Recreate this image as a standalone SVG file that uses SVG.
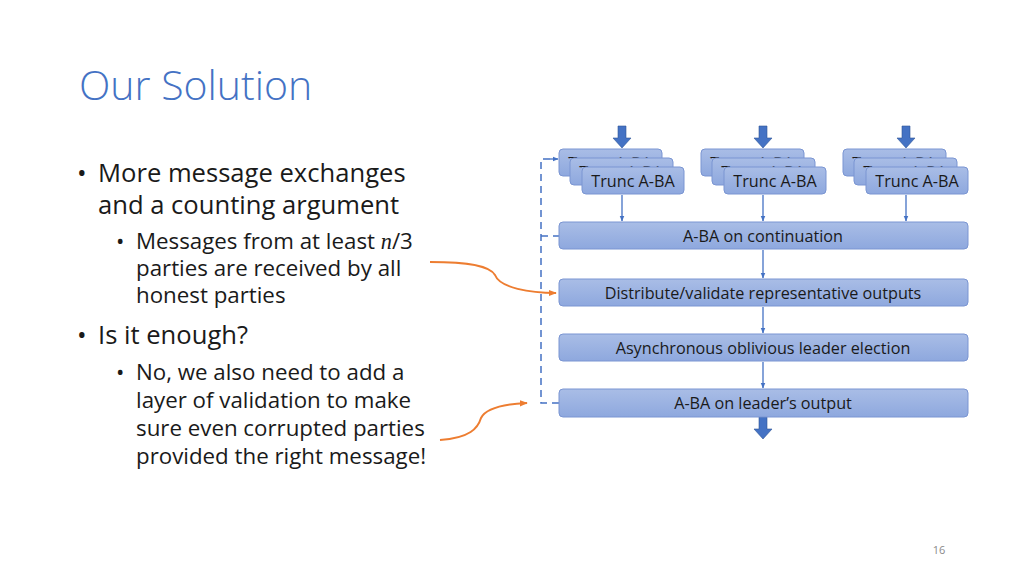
<svg xmlns="http://www.w3.org/2000/svg" width="1024" height="576" viewBox="0 0 1024 576">
<defs>
<linearGradient id="g" x1="0" y1="0" x2="0" y2="1">
<stop offset="0" stop-color="#A9BDE6"/>
<stop offset="1" stop-color="#8EA8DE"/>
</linearGradient>
<clipPath id="c1"><rect x="559" y="149" width="11" height="27"/><rect x="570" y="149" width="92" height="9"/></clipPath>
<clipPath id="c2"><rect x="570" y="158" width="12" height="27"/><rect x="582" y="158" width="91" height="9"/></clipPath>
<marker id="ab" viewBox="0 0 10 10" refX="9" refY="5" markerWidth="6" markerHeight="6" orient="auto" markerUnits="userSpaceOnUse">
<path d="M0,1 L10,5 L0,9 z" fill="#4472C4"/>
</marker>
<marker id="ao" viewBox="0 0 10 10" refX="9" refY="5" markerWidth="8" markerHeight="8" orient="auto" markerUnits="userSpaceOnUse">
<path d="M0,1 L10,5 L0,9 z" fill="#ED7D31"/>
</marker>
<path id="big" d="M-4,0 H4 V12 H9 L0,22 L-9,12 H-4 z" fill="#4472C4" stroke="#2F5597" stroke-width="0.6"/>
</defs>
<style>
.box{fill:url(#g);stroke:#7A95D2;stroke-width:1}
.bt{font-family:"Open Sans",Lato,sans-serif;font-size:16.2px;fill:#1a1a1a;text-anchor:middle}
.tx{font-family:"Open Sans",Lato,sans-serif;fill:#1a1a1a}
.l1{font-size:25.6px}
.l2{font-size:22.3px}
.thin{stroke:#4472C4;stroke-width:1.3;fill:none}
.dash{stroke:#4472C4;stroke-width:1.5;fill:none;stroke-dasharray:7,5}
.or{stroke:#ED7D31;stroke-width:2;fill:none}
</style>
<rect width="1024" height="576" fill="#fff"/>
<text x="79" y="100" font-family="'Open Sans',Lato,sans-serif" font-weight="300" font-size="41" fill="#4472C4">Our Solution</text>
<g id="text-left">
<text class="tx l1" x="77" y="182">•</text>
<text class="tx l1" x="98" y="182">More message exchanges</text>
<text class="tx l1" x="98" y="214">and a counting argument</text>
<text class="tx l2" x="116" y="249">•</text>
<text class="tx l2" x="136" y="249">Messages from at least <tspan font-family="'Liberation Serif',serif" font-style="italic">n</tspan>/3</text>
<text class="tx l2" x="136" y="276">parties are received by all</text>
<text class="tx l2" x="136" y="303">honest parties</text>
<text class="tx l1" x="77" y="344">•</text>
<text class="tx l1" x="98" y="344">Is it enough?</text>
<text class="tx l2" x="116" y="380">•</text>
<text class="tx l2" x="136" y="380">No, we also need to add a</text>
<text class="tx l2" x="136" y="408">layer of validation to make</text>
<text class="tx l2" x="136" y="436">sure even corrupted parties</text>
<text class="tx l2" x="136" y="464">provided the right message!</text>
</g>
<g id="connectors">
<use href="#big" x="622" y="126"/>
<use href="#big" x="763" y="126"/>
<use href="#big" x="906" y="126"/>
<use href="#big" x="763" y="417"/>
<line class="thin" x1="622" y1="195" x2="622" y2="221" marker-end="url(#ab)"/>
<line class="thin" x1="763" y1="195" x2="763" y2="221" marker-end="url(#ab)"/>
<line class="thin" x1="906" y1="195" x2="906" y2="221" marker-end="url(#ab)"/>
<line class="thin" x1="763" y1="250" x2="763" y2="278" marker-end="url(#ab)"/>
<line class="thin" x1="763" y1="307" x2="763" y2="333" marker-end="url(#ab)"/>
<line class="thin" x1="763" y1="362" x2="763" y2="388" marker-end="url(#ab)"/>
<path class="dash" d="M559,403 H541 V159 H552"/>
<path class="dash" d="M541,236 H559"/>
<line class="thin" x1="550" y1="159" x2="558" y2="159" marker-end="url(#ab)"/>
<path class="or" d="M430,262 C470,262 490,266 495,275 C500,288 530,293 556,293" marker-end="url(#ao)"/>
<path class="or" d="M440,440 C470,438 478,428 481,418 C486,408 505,404 527,403" marker-end="url(#ao)"/>
</g>
<g id="trunc1">
<rect class="box" x="559" y="149" width="103" height="27" rx="4"/>
<text class="bt" x="610" y="169" clip-path="url(#c1)">Trunc A-BA</text>
<rect class="box" x="570" y="158" width="103" height="27" rx="4"/>
<text class="bt" x="621" y="178" clip-path="url(#c2)">Trunc A-BA</text>
<rect class="box" x="582" y="167" width="102" height="27" rx="4"/>
<text class="bt" x="633" y="187">Trunc A-BA</text>
</g>
<g id="trunc2">
<rect class="box" x="701" y="149" width="103" height="27" rx="4"/>
<text class="bt" x="610" y="169" clip-path="url(#c1)" transform="translate(142,0)">Trunc A-BA</text>
<rect class="box" x="712" y="158" width="103" height="27" rx="4"/>
<text class="bt" x="621" y="178" clip-path="url(#c2)" transform="translate(142,0)">Trunc A-BA</text>
<rect class="box" x="724" y="167" width="102" height="27" rx="4"/>
<text class="bt" x="775" y="187">Trunc A-BA</text>
</g>
<g id="trunc3">
<rect class="box" x="843" y="149" width="103" height="27" rx="4"/>
<text class="bt" x="610" y="169" clip-path="url(#c1)" transform="translate(284,0)">Trunc A-BA</text>
<rect class="box" x="854" y="158" width="103" height="27" rx="4"/>
<text class="bt" x="621" y="178" clip-path="url(#c2)" transform="translate(284,0)">Trunc A-BA</text>
<rect class="box" x="866" y="167" width="102" height="27" rx="4"/>
<text class="bt" x="917" y="187">Trunc A-BA</text>
</g>
<g id="aba-cont">
<rect class="box" x="559" y="222" width="409" height="27" rx="4"/>
<text class="bt" x="763" y="242">A-BA on continuation</text>
</g>
<g id="distribute">
<rect class="box" x="559" y="279" width="409" height="27" rx="4"/>
<text class="bt" x="763" y="299">Distribute/validate representative outputs</text>
</g>
<g id="election">
<rect class="box" x="559" y="334" width="409" height="27" rx="4"/>
<text class="bt" x="763" y="354">Asynchronous oblivious leader election</text>
</g>
<g id="aba-leader">
<rect class="box" x="559" y="389" width="409" height="28" rx="4"/>
<text class="bt" x="763" y="409">A-BA on leader’s output</text>
</g>
<text x="939" y="554" font-family="'Open Sans',Lato,sans-serif" font-size="11" fill="#8a8a8a" text-anchor="middle">16</text>
</svg>
